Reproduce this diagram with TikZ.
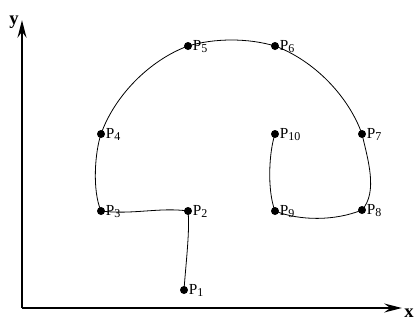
\documentclass[tikz,border=0pt]{standalone}
\usepackage{fontspec}
\setmainfont{Liberation Serif}
\usetikzlibrary{arrows.meta}
\newcommand{\lab}[1]{P\raisebox{-1.8pt}{\fontsize{9}{10}\selectfont #1}}
\begin{document}
\begin{tikzpicture}[x=0.75pt,y=-0.75pt,
  pt/.style={circle,fill=black,inner sep=0pt,minimum size=6pt},
  lbl/.style={anchor=west,inner sep=0pt,font=\fontsize{11.5}{13}\selectfont},
  axis/.style={line width=2.2pt,-{Stealth[length=13pt,width=6.5pt]}},
  curve/.style={line width=0.6pt}]
\useasboundingbox (0,0) rectangle (415,322);
\coordinate (O) at (22,308);
\coordinate (Y) at (22,20);
\coordinate (X) at (402,308);
\draw[axis] (O) -- (Y);
\draw[axis] (O) -- (X);
\node[anchor=base,font=\fontsize{14}{15}\selectfont\bfseries] (ylab) at (14,24) {y};
\node[anchor=base,font=\fontsize{14}{15}\selectfont\bfseries] (xlab) at (409,317) {x};
\coordinate (P1) at (184,290);
\coordinate (P2) at (188,211);
\coordinate (P3) at (101,211);
\coordinate (P4) at (101,134);
\coordinate (P5) at (188,46);
\coordinate (P6) at (275,46);
\coordinate (P7) at (362,134);
\coordinate (P8) at (362,210);
\coordinate (P9) at (275,211);
\coordinate (P10) at (275,134);
\draw[curve] (P1) .. controls (186,262) and (190,230) .. (P2)
  .. controls (160,207) and (132,215) .. (P3)
  .. controls (92,190) and (95,152) .. (P4)
  .. controls (115,95) and (150,60) .. (P5)
  .. controls (215,38) and (248,38) .. (P6)
  .. controls (313,60) and (348,95) .. (P7)
  .. controls (368,160) and (378,192) .. (P8)
  .. controls (335,221) and (300,221) .. (P9)
  .. controls (267,190) and (269,152) .. (P10);
\foreach \p in {1,...,10}{
  \node[pt] (d\p) at (P\p) {};
  \node[lbl] (l\p) at ([xshift=3.5pt,yshift=-0.5pt]P\p) {\lab{\p}};
}
\end{tikzpicture}
\end{document}
